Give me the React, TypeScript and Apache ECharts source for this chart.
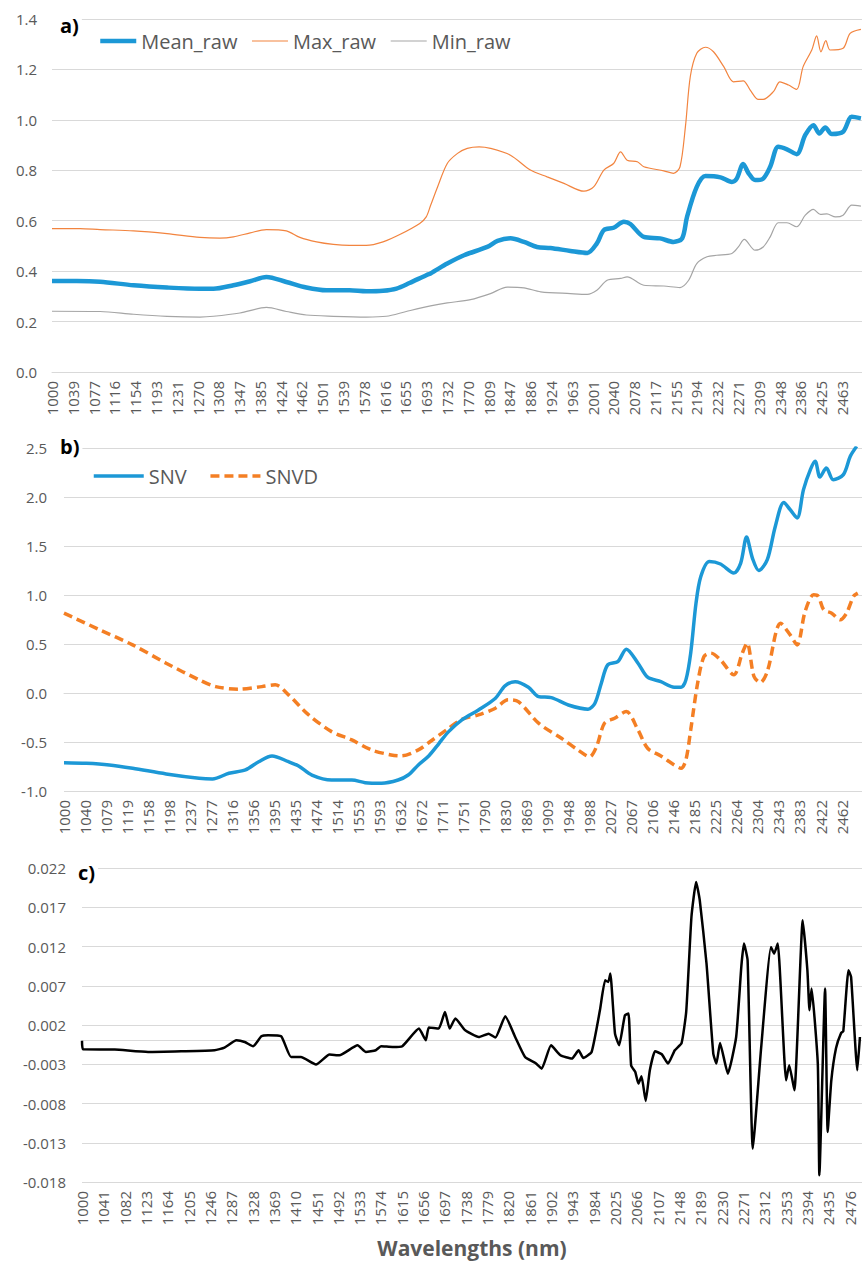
import React, { useEffect, useRef } from "react";
import * as echarts from "echarts";

// ---------- Panel a) raw spectra (wavelength nm, reflectance) ----------
const meanRaw: [number, number][] = [
  [1000, 0.361], [1046, 0.361], [1089, 0.358], [1151, 0.344], [1213, 0.335], [1274, 0.330],
  [1299, 0.330], [1336, 0.344], [1367, 0.360], [1397, 0.377], [1434, 0.357], [1471, 0.335],
  [1508, 0.324], [1551, 0.324], [1582, 0.320], [1613, 0.322], [1638, 0.331], [1662, 0.353],
  [1693, 0.384], [1701, 0.391], [1732, 0.430], [1763, 0.463], [1806, 0.496], [1825, 0.520],
  [1849, 0.530], [1874, 0.516], [1898, 0.496], [1923, 0.492], [1960, 0.480], [1991, 0.472],
  [2009, 0.510], [2022, 0.563], [2040, 0.572], [2059, 0.596], [2071, 0.587], [2096, 0.536],
  [2126, 0.530], [2151, 0.516], [2167, 0.530], [2176, 0.615], [2194, 0.734], [2210, 0.777],
  [2238, 0.772], [2259, 0.754], [2268, 0.767], [2280, 0.825], [2290, 0.788], [2302, 0.761],
  [2317, 0.767], [2330, 0.814], [2345, 0.893], [2361, 0.883], [2379, 0.864], [2395, 0.940],
  [2410, 0.979], [2421, 0.946], [2432, 0.970], [2444, 0.944], [2465, 0.953], [2481, 1.012],
  [2498, 1.006],
];
const maxRaw: [number, number][] = [
  [1000, 0.569], [1052, 0.569], [1089, 0.565], [1151, 0.560], [1213, 0.549], [1274, 0.534],
  [1311, 0.531], [1336, 0.536], [1367, 0.552], [1397, 0.565], [1434, 0.560], [1459, 0.534],
  [1490, 0.516], [1521, 0.506], [1551, 0.502], [1582, 0.502], [1613, 0.516], [1644, 0.545],
  [1681, 0.589], [1693, 0.615], [1701, 0.660], [1714, 0.734], [1732, 0.827], [1751, 0.867],
  [1769, 0.887], [1791, 0.893], [1812, 0.887], [1849, 0.860], [1886, 0.801], [1917, 0.774],
  [1948, 0.748], [1985, 0.717], [2003, 0.734], [2022, 0.801], [2040, 0.827], [2053, 0.873],
  [2065, 0.840], [2084, 0.834], [2096, 0.814], [2133, 0.798], [2151, 0.788], [2163, 0.814],
  [2173, 0.973], [2182, 1.171], [2194, 1.264], [2210, 1.288], [2225, 1.270], [2244, 1.211],
  [2262, 1.151], [2280, 1.155], [2293, 1.118], [2308, 1.081], [2317, 1.081], [2336, 1.112],
  [2348, 1.151], [2364, 1.138], [2379, 1.121], [2391, 1.211], [2407, 1.277], [2416, 1.333],
  [2424, 1.270], [2433, 1.314], [2441, 1.277], [2465, 1.284], [2478, 1.343], [2498, 1.359],
];
const minRaw: [number, number][] = [
  [1000, 0.241], [1089, 0.240], [1151, 0.229], [1213, 0.221], [1274, 0.218], [1299, 0.221],
  [1348, 0.234], [1397, 0.256], [1434, 0.240], [1471, 0.226], [1521, 0.221], [1582, 0.218],
  [1619, 0.221], [1656, 0.240], [1701, 0.262], [1732, 0.274], [1775, 0.287], [1812, 0.311],
  [1843, 0.337], [1874, 0.334], [1905, 0.318], [1960, 0.311], [1991, 0.308], [2009, 0.324],
  [2028, 0.364], [2053, 0.371], [2065, 0.377], [2096, 0.344], [2133, 0.341], [2163, 0.335],
  [2179, 0.364], [2194, 0.430], [2213, 0.457], [2231, 0.463], [2259, 0.470], [2271, 0.496],
  [2282, 0.526], [2302, 0.483], [2317, 0.496], [2330, 0.536], [2345, 0.592], [2361, 0.592],
  [2379, 0.576], [2395, 0.622], [2410, 0.645], [2423, 0.625], [2435, 0.627], [2451, 0.615],
  [2465, 0.622], [2481, 0.662], [2498, 0.658],
];

// ---------- Panel b) SNV and SNVD ----------
const snv: [number, number][] = [
  [1000, -0.711], [1042, -0.717], [1085, -0.734], [1129, -0.768], [1192, -0.826], [1254, -0.870],
  [1279, -0.877], [1310, -0.819], [1341, -0.785], [1366, -0.701], [1391, -0.642], [1422, -0.701],
  [1441, -0.745], [1466, -0.837], [1503, -0.888], [1541, -0.888], [1566, -0.915], [1597, -0.921],
  [1628, -0.888], [1647, -0.837], [1666, -0.734], [1686, -0.640], [1705, -0.513], [1723, -0.394],
  [1748, -0.275], [1779, -0.173], [1811, -0.053], [1829, 0.073], [1848, 0.116], [1873, 0.059],
  [1892, -0.037], [1916, -0.047], [1948, -0.122], [1985, -0.165], [1998, -0.104], [2010, 0.100],
  [2022, 0.287], [2041, 0.321], [2057, 0.447], [2079, 0.304], [2097, 0.161], [2122, 0.116],
  [2147, 0.059], [2160, 0.059], [2169, 0.134], [2178, 0.407], [2188, 0.917], [2197, 1.189],
  [2213, 1.342], [2234, 1.316], [2259, 1.224], [2272, 1.326], [2283, 1.591], [2294, 1.377],
  [2306, 1.250], [2322, 1.360], [2337, 1.700], [2353, 1.945], [2365, 1.870], [2378, 1.785],
  [2390, 2.075], [2403, 2.279], [2412, 2.364], [2421, 2.204], [2433, 2.296], [2446, 2.177],
  [2465, 2.228], [2478, 2.415], [2490, 2.517],
];
const snvd: [number, number][] = [
  [1000, 0.815], [1067, 0.645], [1129, 0.491], [1192, 0.304], [1254, 0.134], [1285, 0.065],
  [1329, 0.039], [1372, 0.065], [1397, 0.083], [1422, -0.019], [1460, -0.224], [1503, -0.394],
  [1541, -0.479], [1578, -0.581], [1615, -0.632], [1634, -0.642], [1666, -0.581], [1686, -0.505],
  [1723, -0.360], [1748, -0.268], [1779, -0.224], [1811, -0.155], [1835, -0.070], [1854, -0.088],
  [1892, -0.308], [1935, -0.462], [1966, -0.581], [1988, -0.650], [2001, -0.547], [2016, -0.308],
  [2035, -0.257], [2057, -0.190], [2079, -0.377], [2097, -0.564], [2122, -0.642], [2147, -0.734],
  [2160, -0.768], [2169, -0.683], [2178, -0.377], [2191, 0.100], [2203, 0.372], [2216, 0.407],
  [2234, 0.338], [2259, 0.185], [2275, 0.407], [2284, 0.509], [2297, 0.168], [2309, 0.106],
  [2322, 0.219], [2347, 0.713], [2365, 0.593], [2378, 0.491], [2393, 0.831], [2409, 1.002],
  [2418, 0.985], [2428, 0.849], [2443, 0.815], [2459, 0.747], [2471, 0.815], [2484, 0.985],
  [2492, 1.019],
];

// ---------- Panel c) derivative spectrum ----------
const deriv: [number, number][] = [
  [1000, 0.0000], [1002, -0.0011], [1063, -0.00113], [1127, -0.00144], [1191, -0.00135],
  [1255, -0.00122], [1274, -0.00088], [1297, 0.00005], [1313, -0.00017], [1329, -0.00071],
  [1345, 0.00056], [1358, 0.00069], [1383, 0.00056], [1402, -0.00208], [1421, -0.00208],
  [1450, -0.00304], [1476, -0.00177], [1495, -0.00186], [1530, -0.00059], [1546, -0.00144],
  [1565, -0.00122], [1575, -0.00071], [1597, -0.0008], [1616, -0.0007], [1648, 0.00154],
  [1661, 0.00005], [1667, 0.00167], [1686, 0.00154], [1698, 0.00366], [1707, 0.00154],
  [1718, 0.00282], [1737, 0.00133], [1763, 0.00047], [1782, 0.0009], [1795, 0.0004],
  [1814, 0.00311], [1833, 0.00047], [1852, -0.00208], [1872, -0.00284], [1884, -0.00356],
  [1902, -0.00059], [1920, -0.00186], [1942, -0.00228], [1955, -0.00122], [1964, -0.0022],
  [1980, -0.00144], [1996, 0.00387], [2006, 0.00769], [2012, 0.00748], [2016, 0.00855],
  [2025, 0.0009], [2033, -0.00059], [2044, 0.00324], [2051, 0.00345], [2056, -0.00313],
  [2064, -0.00399], [2070, -0.00546], [2076, -0.00453], [2084, -0.00768], [2092, -0.00377],
  [2102, -0.00135], [2115, -0.00173], [2127, -0.00292], [2140, -0.00122], [2153, -0.00031],
  [2162, 0.00373], [2172, 0.01576], [2181, 0.02022], [2188, 0.01789], [2201, 0.00982],
  [2214, -0.00164], [2220, -0.00292], [2227, -0.00029], [2242, -0.00419], [2258, 0.00047],
  [2268, 0.0095], [2273, 0.01237], [2280, 0.01024], [2290, -0.01375], [2306, -0.00095],
  [2325, 0.01194], [2331, 0.01109], [2338, 0.01237], [2354, -0.00504], [2360, -0.00313],
  [2370, -0.00632], [2386, 0.01534], [2395, 0.00897], [2399, 0.00387], [2403, 0.00664],
  [2415, -0.00292], [2418, -0.01714], [2429, 0.00664], [2434, -0.01163], [2441, -0.00504],
  [2450, -0.00095], [2460, 0.001], [2464, 0.00118], [2474, 0.00897], [2479, 0.00812],
  [2491, -0.00377], [2496, 0.00047],
];

// Axis tick settings (wavelength label steps and value ranges)
const xStepA = 38.5;
const xStepB = 39.5;
const xStepC = 41;
const yA = { min: 0, max: 1.4, interval: 0.2 };
const yB = { min: -1, max: 2.5, interval: 0.5 };
const yC = { min: -0.018, max: 0.022, interval: 0.005 };

const FONT = '"Open Sans", "Liberation Sans", sans-serif';
const GRAY = "#595959";
const GRID_LINE = "#d9d9d9";

function xAxisCfg(gridIndex: number, step: number) {
  return {
    type: "value" as const,
    gridIndex,
    min: 1000,
    max: 2500,
    interval: step,
    axisLine: { show: true, lineStyle: { color: GRID_LINE, width: 1 } },
    axisTick: { show: false },
    splitLine: { show: false },
    axisLabel: {
      rotate: 90,
      margin: 9,
      color: GRAY,
      fontSize: 15,
      fontFamily: FONT,
      showMaxLabel: false,
      formatter: (v: number) => String(Math.round(v)),
    },
  };
}

function yAxisCfg(gridIndex: number, r: { min: number; max: number; interval: number }, dec: number, margin: number) {
  return {
    type: "value" as const,
    gridIndex,
    min: r.min,
    max: r.max,
    interval: r.interval,
    axisLine: { show: false },
    axisTick: { show: false },
    splitLine: { show: true, lineStyle: { color: GRID_LINE, width: 1 } },
    axisLabel: {
      margin,
      color: GRAY,
      fontSize: 15,
      fontFamily: FONT,
      formatter: (v: number) => v.toFixed(dec),
    },
  };
}

export default function App() {
  const ref = useRef<HTMLDivElement>(null);

  useEffect(() => {
    if (!ref.current) return;
    const chart = echarts.init(ref.current, undefined, { renderer: "svg" });
    const blue = "#1C98D6";
    const orange = "#F2843F";
    const snvdColor = "#F47F24";
    const legendCommon = {
      padding: 0,
      itemHeight: 14,
      itemStyle: { opacity: 0, borderWidth: 0 },
      textStyle: { color: GRAY, fontSize: 20, fontFamily: FONT },
    };
    const option: any = {
      animation: false,
      backgroundColor: "#ffffff",
      textStyle: { fontFamily: FONT },
      grid: [
        { left: 52, top: 19, width: 811, height: 353 },
        { left: 64, top: 448, width: 802, height: 343 },
        { left: 82, top: 868, width: 780, height: 314 },
      ],
      xAxis: [xAxisCfg(0, xStepA), xAxisCfg(1, xStepB), xAxisCfg(2, xStepC)],
      yAxis: [yAxisCfg(0, yA, 1, 15), yAxisCfg(1, yB, 1, 17), yAxisCfg(2, yC, 3, 16)],
      legend: [
        {
          ...legendCommon,
          data: [
            { name: "Mean_raw", lineStyle: { width: 4.5, color: blue } },
            { name: "Max_raw", lineStyle: { width: 1.2, color: orange } },
            { name: "Min_raw", lineStyle: { width: 1.2, color: "#a5a5a5" } },
          ],
          left: 98,
          top: 31,
          itemWidth: 36,
          itemGap: 14,
        },
        {
          ...legendCommon,
          data: [
            { name: "SNV", lineStyle: { width: 3.5, color: blue } },
            { name: "SNVD", lineStyle: { width: 3.5, color: snvdColor, type: [9, 5] } },
          ],
          left: 92,
          top: 466,
          itemWidth: 50,
          itemGap: 22,
        },
      ],
      series: [
        {
          name: "Max_raw", type: "line", xAxisIndex: 0, yAxisIndex: 0, data: maxRaw,
          symbol: "none", smooth: 0.3, color: orange, lineStyle: { width: 1.2, color: orange }, z: 3,
        },
        {
          name: "Min_raw", type: "line", xAxisIndex: 0, yAxisIndex: 0, data: minRaw,
          symbol: "none", smooth: 0.3, color: "#a5a5a5", lineStyle: { width: 1.2, color: "#a5a5a5" }, z: 3,
        },
        {
          name: "Mean_raw", type: "line", xAxisIndex: 0, yAxisIndex: 0, data: meanRaw,
          symbol: "none", smooth: 0.3, color: blue, lineStyle: { width: 4.5, color: blue }, z: 4,
        },
        {
          name: "SNV", type: "line", xAxisIndex: 1, yAxisIndex: 1, data: snv,
          symbol: "none", smooth: 0.3, color: blue, lineStyle: { width: 3.5, color: blue }, z: 4,
        },
        {
          name: "SNVD", type: "line", xAxisIndex: 1, yAxisIndex: 1, data: snvd,
          symbol: "none", smooth: 0.3, color: snvdColor,
          lineStyle: { width: 3.5, color: snvdColor, type: [9, 5] }, z: 3,
        },
        {
          name: "Derivative", type: "line", xAxisIndex: 2, yAxisIndex: 2, data: deriv,
          symbol: "none", smooth: 0.15, color: "#000",
          lineStyle: { width: 2.5, color: "#000", join: "round" }, z: 3,
        },
      ],
      graphic: [
        {
          type: "text", x: 52, y: 25, z: 100,
          style: {
            text: "a)", font: `bold 20px ${FONT}`, fill: "#000", textVerticalAlign: "middle",
            backgroundColor: "#fff", padding: [0, 3, 0, 8],
          },
        },
        {
          type: "text", x: 52, y: 446, z: 100,
          style: {
            text: "b)", font: `bold 20px ${FONT}`, fill: "#000", textVerticalAlign: "middle",
            backgroundColor: "#fff", padding: [0, 3, 0, 8],
          },
        },
        {
          type: "text", x: 70, y: 872, z: 100,
          style: {
            text: "c)", font: `bold 20px ${FONT}`, fill: "#000", textVerticalAlign: "middle",
            backgroundColor: "#fff", padding: [0, 3, 0, 8],
          },
        },
        {
          type: "text", x: 472, y: 1248, z: 100,
          style: {
            text: "Wavelengths (nm)", font: `bold 21px ${FONT}`, fill: GRAY,
            textAlign: "center", textVerticalAlign: "middle",
          },
        },
      ],
    };
    chart.setOption(option);
    return () => chart.dispose();
  }, []);

  return (
    <div
      ref={ref}
      style={{ position: "absolute", left: 0, top: 0, width: 862, height: 1264, background: "#fff" }}
    />
  );
}
